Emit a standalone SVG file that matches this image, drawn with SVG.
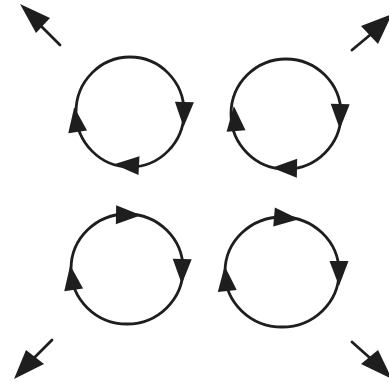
<svg xmlns="http://www.w3.org/2000/svg" width="389" height="383" viewBox="0 0 389 383">
<style>
.ring{fill:none;stroke:#1e1e1e;stroke-width:2.8}
.head{fill:#1e1e1e}
.shaft{stroke:#1e1e1e;stroke-width:2.8;stroke-linecap:round}
</style>
<defs>
<polygon id="ah" points="13,0 -12,-9.5 -12,9.5" class="head"/>
</defs>
<rect width="389" height="383" fill="#ffffff"/>
<g id="vortex-tl">
<ellipse class="ring" cx="130" cy="112" rx="54" ry="55"/>
<use href="#ah" transform="translate(184,114) rotate(92)"/>
<use href="#ah" transform="translate(76,120) rotate(262)"/>
<use href="#ah" transform="translate(127,165) rotate(183)"/>
</g>
<g id="vortex-tr">
<ellipse class="ring" cx="286" cy="114" rx="55" ry="55"/>
<use href="#ah" transform="translate(340,116) rotate(91)"/>
<use href="#ah" transform="translate(235,119) rotate(265)"/>
<use href="#ah" transform="translate(285,168) rotate(181)"/>
</g>
<g id="vortex-bl">
<ellipse class="ring" cx="127" cy="269" rx="56" ry="55"/>
<use href="#ah" transform="translate(128,215) rotate(1)"/>
<use href="#ah" transform="translate(182,271) rotate(91)"/>
<use href="#ah" transform="translate(72,278) rotate(262)"/>
</g>
<g id="vortex-br">
<ellipse class="ring" cx="282" cy="272" rx="57" ry="55"/>
<use href="#ah" transform="translate(286,218) rotate(5)"/>
<use href="#ah" transform="translate(339,273) rotate(90)"/>
<use href="#ah" transform="translate(226,279) rotate(264)"/>
</g>
<g id="connectors">
<line class="shaft" x1="60" y1="45" x2="42" y2="27"/>
<polygon class="head" points="20,4 50,18 36,33"/>
<line class="shaft" x1="352" y1="50" x2="370" y2="35"/>
<polygon class="head" points="392,14 361,26 378,44"/>
<line class="shaft" x1="52" y1="340" x2="35" y2="357"/>
<polygon class="head" points="14,379 26,350 44,364"/>
<line class="shaft" x1="352" y1="342" x2="370" y2="358"/>
<polygon class="head" points="392,379 361,364 378,350"/>
</g>
</svg>
